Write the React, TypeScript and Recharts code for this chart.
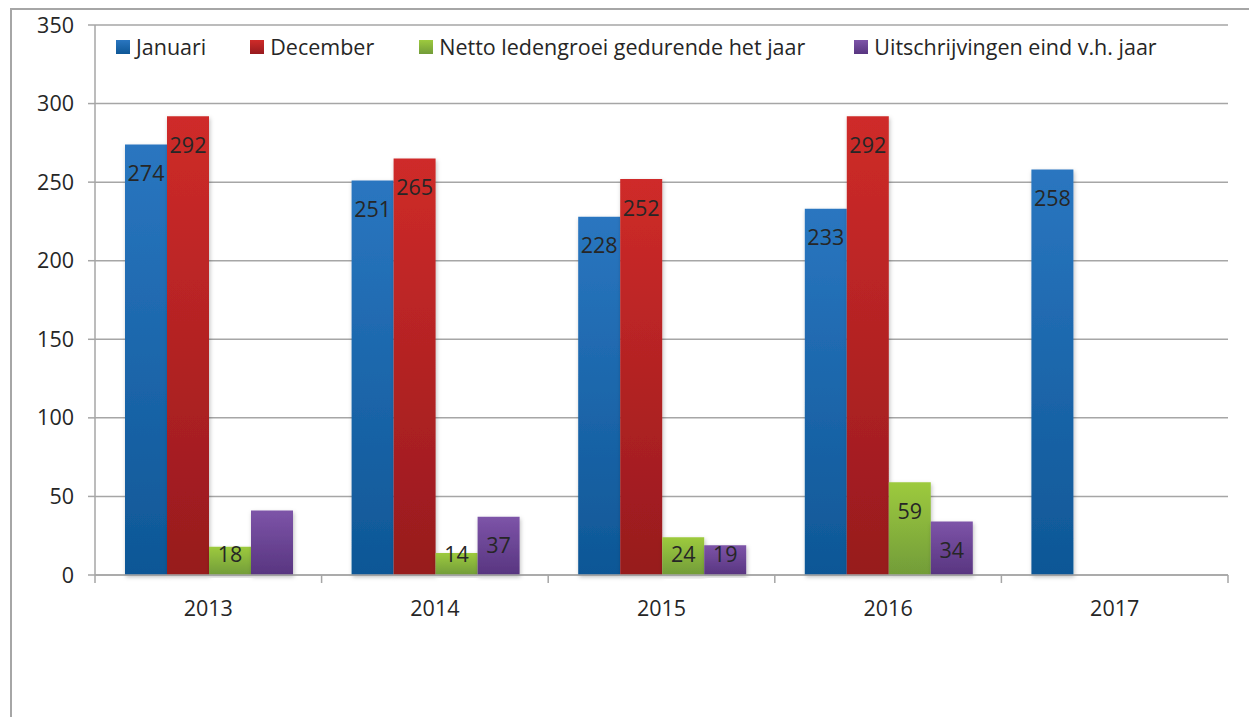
import { BarChart, Bar, XAxis, YAxis, CartesianGrid, LabelList } from 'recharts';

const years = ['2013', '2014', '2015', '2016', '2017'];
const januari = [274, 251, 228, 233, 258];
const december = [292, 265, 252, 292, null];
const netto = [18, 14, 24, 59, null];
const uitschrijvingen = [41, 37, 19, 34, null];
// 2013 uitschrijvingen has no label in the original
const uitLabels = [null, 37, 19, 34, null];
const yTicks = [0, 50, 100, 150, 200, 250, 300, 350];

const data = years.map((year, i) => ({
  year,
  januari: januari[i],
  december: december[i],
  netto: netto[i],
  uitschrijvingen: uitschrijvingen[i],
  uitLabel: uitLabels[i],
}));

const series = [
  { key: 'januari', name: 'Januari', top: '#2a76c0', bottom: '#0e5796' },
  { key: 'december', name: 'December', top: '#cf2b29', bottom: '#971a1e' },
  { key: 'netto', name: 'Netto ledengroei gedurende het jaar', top: '#9dca3e', bottom: '#729c39' },
  { key: 'uitschrijvingen', name: 'Uitschrijvingen eind v.h. jaar', top: '#7d54a8', bottom: '#583580' },
];

const FONT = '"Open Sans", "Noto Sans", sans-serif';
const FS = 21.5;
const GRID = '#a6a6a6';

const BarLabel = (props: any) => {
  const { x, y, width, height, value } = props;
  if (value === null || value === undefined) return null;
  const cy = Math.min(y + 28, y + height - 22);
  return (
    <text x={x + width / 2} y={cy} textAnchor="middle" dominantBaseline="central"
      fontSize={FS} fontFamily={FONT} fill="#262626">
      {value}
    </text>
  );
};

const XTick = (props: any) => {
  const { x, y, payload, index, visibleTicksCount } = props;
  const half = payload.offset || 0;
  return (
    <g>
      <line x1={x - half} x2={x - half} y1={y - 8} y2={y} stroke={GRID} strokeWidth={1.5} />
      {index === visibleTicksCount - 1 && (
        <line x1={x + half} x2={x + half} y1={y - 8} y2={y} stroke={GRID} strokeWidth={1.5} />
      )}
      <text x={x} y={y + 33} textAnchor="middle" fontSize={FS} fontFamily={FONT} fill="#262626">
        {payload.value}
      </text>
    </g>
  );
};

const LegendBox = () => (
  <div style={{ position: 'absolute', left: 116, top: 32, display: 'flex', fontFamily: FONT, fontSize: FS, color: '#262626', whiteSpace: 'nowrap' }}>
    {series.map((s, i) => (
      <div key={s.key} style={{ display: 'flex', alignItems: 'center', marginRight: [44, 45, 49, 0][i] }}>
        <div style={{ width: 14, height: 14, marginRight: 6, background: `linear-gradient(${s.top}, ${s.bottom})` }} />
        <span>{s.name}</span>
      </div>
    ))}
  </div>
);

export default function App() {
  return (
    <div style={{ position: 'absolute', left: 0, top: 0, width: 1249, height: 717, overflow: 'hidden', background: '#fff' }}>
      <div style={{ position: 'absolute', left: 10, top: 8, width: 1300, height: 800, border: `2px solid ${GRID}` }} />
      <div style={{ position: 'absolute', left: 0, top: 0 }}>
        <BarChart width={1249} height={717} data={data}
          margin={{ top: 25, right: 21, left: 25, bottom: 102 }}
          barCategoryGap={30} barGap={0}>
          <defs>
            {series.map((s) => (
              <linearGradient key={s.key} id={`grad-${s.key}`} x1="0" y1="0" x2="0" y2="1">
                <stop offset="0%" stopColor={s.top} />
                <stop offset="100%" stopColor={s.bottom} />
              </linearGradient>
            ))}
            <filter id="shadow" x="-20%" y="-5%" width="140%" height="115%">
              <feDropShadow dx="1" dy="2" stdDeviation="2" floodColor="#000" floodOpacity="0.25" />
            </filter>
          </defs>
          <CartesianGrid vertical={false} stroke={GRID} strokeWidth={1.5} />
          <XAxis dataKey="year" height={40} tickLine={false} axisLine={{ stroke: GRID, strokeWidth: 1.5 }}
            tick={<XTick />} interval={0} />
          <YAxis width={70} domain={[0, 350]} ticks={yTicks} interval={0}
            axisLine={{ stroke: GRID, strokeWidth: 1.5 }} tickLine={{ stroke: GRID, strokeWidth: 1.5 }}
            tickSize={7} tickMargin={14}
            tick={{ fontSize: FS, fontFamily: FONT, fill: '#262626' }} />
          {series.map((s) => (
            <Bar key={s.key} dataKey={s.key} name={s.name} fill={`url(#grad-${s.key})`}
              filter="url(#shadow)" isAnimationActive={false}>
              <LabelList dataKey={s.key === 'uitschrijvingen' ? 'uitLabel' : s.key} content={<BarLabel />} />
            </Bar>
          ))}
        </BarChart>
      </div>
      <LegendBox />
    </div>
  );
}
